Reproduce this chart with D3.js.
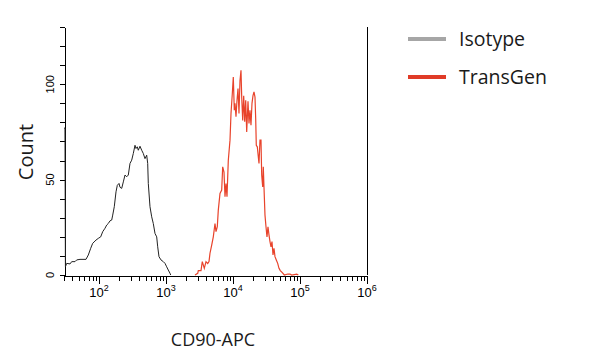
<!DOCTYPE html>
<html>
<head>
<meta charset="utf-8">
<script src="https://cdn.jsdelivr.net/npm/d3@7"></script>
<style>
  body { margin: 0; background: #fff; }
  .lbl { font-family: "Open Sans", sans-serif; fill: #1a1a1a; }
  .tick-lbl { font-family: "Liberation Sans", Arial, sans-serif; fill: #000; }
</style>
</head>
<body>
<div id="chart"></div>
<script>
// Isotype histogram (intensity, count)
const isoX = [30, 31, 31.5, 32.9, 36.9, 39.1, 43.8, 46.4, 52, 63.9, 69.2, 75.1, 80.4, 90.1, 97.5, 105.9,
  113.4, 122.8, 130.2, 137.5, 145.8, 154.6, 160, 169, 179.2, 187.4, 198.7, 205.6, 218, 230.4, 244.2,
  258.8, 273.5, 290, 307.4, 324.8, 344.3, 356.3, 372.6, 385.6, 408.8, 433.4, 458, 485.5, 514.7, 532.7,
  543.8, 576.5, 611.2, 645.7, 684.6, 725.6, 751.1, 785.4, 841.3, 910.7, 965.2, 1023, 1081, 1146, 1174];
const isoCount = [77, 77, 4.3, 6.1, 5.8, 7, 7, 7.9, 8.2, 8.2, 10.5, 14, 16.6, 18.3, 19.2, 20,
  22.7, 24.5, 26.2, 27, 28.4, 28.8, 31.4, 35.8, 43.6, 47, 48, 46, 45.4, 48.8, 52.4,
  51.5, 52.4, 58.5, 60.2, 63.7, 68, 66.3, 67.2, 65.4, 67.5, 65.4, 63.7, 61, 62.8, 58.5,
  48, 35.8, 30.5, 27, 21.8, 20, 14.8, 9.6, 7.9, 7, 6.1, 4.3, 2.6, 0.9, 0];

// TransGen histogram (intensity, count)
const tgX = [2707, 2971, 3033, 3327, 3479, 3727, 3951, 4189, 4380, 4533, 4806, 5078, 5383, 5572, 5826,
  6029, 6392, 6777, 7014, 7334, 7592, 7857, 8131, 8502, 9016, 9331, 9757, 10097, 10452, 10706, 11080,
  11468, 11868, 12283, 12713, 13157, 13478, 13950, 14437, 14943, 15466, 16006, 16737, 17320, 17925,
  18551, 19202, 19872, 20566, 21286, 21802, 22258, 23035, 23839, 24422, 25273, 26155, 26795, 27730,
  28310, 29000, 30011, 31065, 32149, 33270, 34430, 35638, 36898, 38182, 39514, 40900, 42326, 44262,
  46452, 48571, 50789, 54403, 58280, 65530, 70910, 75165, 89250, 94300];
const tgCount = [0, 0.9, 2.3, 2.3, 7, 3.5, 7, 6, 7, 11.4, 15.7, 20, 27, 22.7, 25.3,
  34, 42.8, 44.5, 56.7, 54, 41, 48, 41, 60, 70.7, 84.7, 95, 103.8, 86.4, 90, 83,
  91.6, 97.7, 84.7, 102, 107.3, 93.3, 81, 94, 80.3, 91.6, 75, 91, 79.4, 86.4,
  78.5, 90, 94, 96, 93.3, 82, 68, 67.2, 62, 58.5, 70.7, 70.7, 52.4, 46.2,
  56.7, 46, 31.4, 25.3, 20, 25.3, 21, 17.5, 14.8, 17.5, 10.5, 14, 9.6, 7.9,
  6.1, 3.5, 2.3, 1.2, 0, 0.5, 0.5, 0, 0.5, 0];

const seriesNames = ["Isotype", "TransGen"];
const lineColors = ["#222222", "#e8432b"];
const legendColors = ["#a6a6a6", "#e03b27"];
const yTickValues = d3.range(0, 131, 10);
const yLabels = [0, 50, 100];
const xDecades = [1e2, 1e3, 1e4, 1e5, 1e6];

const width = 593, height = 362;
const svg = d3.select("#chart").append("svg")
  .attr("width", width)
  .attr("height", height);

const x = d3.scaleLog().domain([30, 1e6]).range([64, 367]);
const y = d3.scaleLinear().domain([0, 130]).range([275, 27]);

// minor ticks: 2..9 of every decade inside the domain
const xMinor = [];
for (let e = 1; e < 6; e++) {
  for (let m = 2; m <= 9; m++) {
    const v = m * Math.pow(10, e);
    if (v >= 30 && v <= 1e6 && !xDecades.includes(v)) xMinor.push(v);
  }
}

// x axis
svg.append("g")
  .attr("transform", "translate(0,275.5)")
  .call(d3.axisBottom(x).tickValues(xMinor).tickSize(5).tickSizeOuter(0).tickFormat(""))
  .call(g => g.selectAll("line,path").attr("stroke", "#000").attr("shape-rendering", "crispEdges"));

const major = svg.append("g")
  .attr("transform", "translate(0,275.5)")
  .call(d3.axisBottom(x).tickValues(xDecades).tickSize(8).tickSizeOuter(0).tickFormat(""))
  .call(g => g.select(".domain").remove())
  .call(g => g.selectAll("line").attr("stroke", "#000").attr("shape-rendering", "crispEdges"));

// decade labels 10^n
xDecades.forEach(v => {
  const t = svg.append("text")
    .attr("class", "tick-lbl")
    .attr("x", x(v))
    .attr("y", 297)
    .attr("text-anchor", "middle")
    .style("font-size", "13px");
  t.append("tspan").text("10");
  t.append("tspan")
    .attr("dy", -6)
    .style("font-size", "9px")
    .text(Math.round(Math.log10(v)));
});

// y axis
svg.append("g")
  .attr("transform", "translate(64.5,0)")
  .call(d3.axisLeft(y).tickValues(yTickValues).tickSize(5).tickSizeOuter(0).tickFormat(""))
  .call(g => g.selectAll("line,path").attr("stroke", "#000").attr("shape-rendering", "crispEdges"));

// right frame line
svg.append("line")
  .attr("x1", 367.5).attr("x2", 367.5)
  .attr("y1", y(130)).attr("y2", 275)
  .attr("stroke", "#000")
  .attr("shape-rendering", "crispEdges");

svg.selectAll(".ylab")
  .data(yLabels)
  .enter().append("text")
  .attr("class", "tick-lbl")
  .attr("transform", d => `translate(54,${y(d)}) rotate(-90)`)
  .attr("text-anchor", "middle")
  .style("font-size", "11px")
  .text(d => d);

// curves
const line = d3.line()
  .x(d => x(d[0]))
  .y(d => y(d[1]));

const series = [
  d3.zip(isoX, isoCount),
  d3.zip(tgX, tgCount)
];

svg.selectAll(".curve")
  .data(series)
  .enter().append("path")
  .attr("class", "curve")
  .attr("d", line)
  .attr("fill", "none")
  .attr("stroke", (d, i) => lineColors[i])
  .attr("stroke-width", (d, i) => i === 0 ? 1 : 1.2);

// axis titles
svg.append("text")
  .attr("class", "lbl")
  .attr("x", 213)
  .attr("y", 346)
  .attr("text-anchor", "middle")
  .style("font-size", "18px")
  .text("CD90-APC");

svg.append("text")
  .attr("class", "lbl")
  .attr("transform", "translate(33,152) rotate(-90)")
  .attr("text-anchor", "middle")
  .style("font-size", "20px")
  .text("Count");

// legend
const legend = svg.selectAll(".legend")
  .data(seriesNames)
  .enter().append("g")
  .attr("class", "legend")
  .attr("transform", (d, i) => `translate(408,${39 + i * 38})`);

legend.append("line")
  .attr("x1", 0).attr("x2", 38)
  .attr("stroke", (d, i) => legendColors[i])
  .attr("stroke-width", 4);

legend.append("text")
  .attr("class", "lbl")
  .attr("x", 51)
  .attr("y", 7)
  .style("font-size", "19.5px")
  .text(d => d);
</script>
</body>
</html>
